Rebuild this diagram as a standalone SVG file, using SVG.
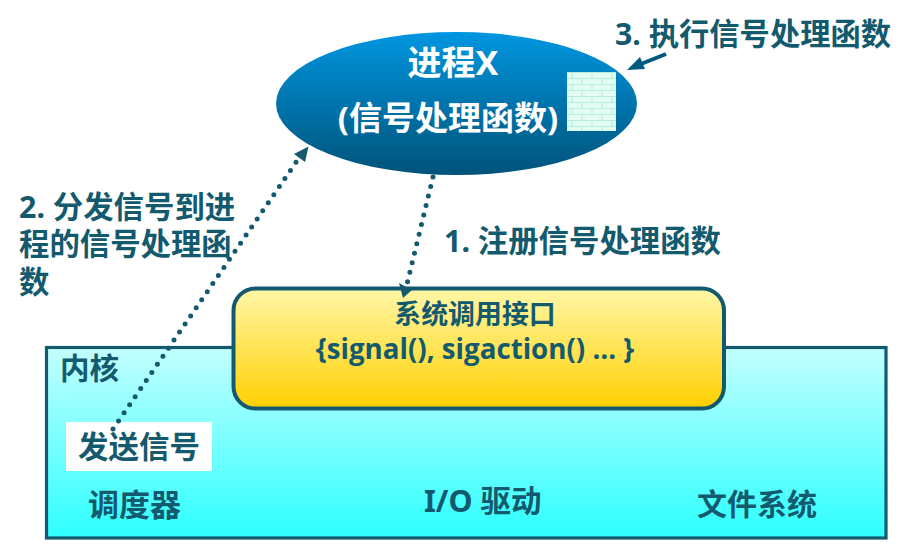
<svg xmlns="http://www.w3.org/2000/svg" width="907" height="554" viewBox="0 0 907 554">
<style>
text{font-family:"Open Sans","Noto Sans CJK SC",sans-serif;font-weight:700;fill:#145a6e}
.cjk{font-family:"Noto Sans","Noto Sans CJK SC",sans-serif}
.dot{fill:none;stroke:#145a6e;stroke-width:5;stroke-linecap:round;stroke-dasharray:0 9.8}
</style>
<defs>
<linearGradient id="gE" x1="0" y1="0" x2="0" y2="1"><stop offset="0" stop-color="#0096e0"/><stop offset="1" stop-color="#00537a"/></linearGradient>
<linearGradient id="gK" x1="0" y1="0" x2="0" y2="1"><stop offset="0" stop-color="#c4ffff"/><stop offset="1" stop-color="#2dffff"/></linearGradient>
<linearGradient id="gY" x1="0" y1="0" x2="0" y2="1"><stop offset="0" stop-color="#fff7a8"/><stop offset="1" stop-color="#ffd000"/></linearGradient>
<pattern id="brick" width="20" height="12" patternUnits="userSpaceOnUse" x="567" y="72">
<rect width="20" height="12" fill="#e4fdf4"/>
<path d="M0 .5H20M0 6.500H20M5 0V6M15 6V12" stroke="#b4f0da" stroke-width="1.100" fill="none"/>
</pattern>
</defs>
<rect width="907" height="554" fill="#fff"/>
<g id="kernel">
<rect x="46.500" y="347.500" width="839.500" height="190.500" fill="url(#gK)" stroke="#145a6e" stroke-width="3.200"/>
<text x="60" y="379" font-size="29.500" class="cjk">内核</text>
</g>
<g id="send-signal">
<rect x="66" y="422" width="146" height="49" fill="#fff"/>
<text x="78" y="458" font-size="30.500" class="cjk">发送信号</text>
</g>
<g id="scheduler"><text x="88" y="516" font-size="31" class="cjk">调度器</text></g>
<g id="io-driver"><text x="424" y="512" font-size="30.500" class="cjk">I/O 驱动</text></g>
<g id="filesystem"><text x="697" y="515" font-size="30" class="cjk">文件系统</text></g>
<g id="process">
<ellipse cx="456.500" cy="103.500" rx="180.500" ry="71.500" fill="url(#gE)"/>
<text x="453" y="75" font-size="34" text-anchor="middle" class="cjk" style="fill:#fff">进程X</text>
<text x="448" y="130" font-size="33" text-anchor="middle" class="cjk" style="fill:#fff">(信号处理函数)</text>
<rect x="567" y="72" width="49" height="59" fill="url(#brick)"/>
</g>
<g id="syscall">
<rect x="233.500" y="288.500" width="490.500" height="120" rx="22" fill="url(#gY)" stroke="#145a6e" stroke-width="4"/>
<text x="475" y="324" font-size="26.900" text-anchor="middle" class="cjk">系统调用接口</text>
<text x="475" y="359" font-size="27.700" text-anchor="middle">{signal(), sigaction() … }</text>
</g>
<g id="connectors">
<path class="dot" d="M113 429L299 158"/>
<path d="M294 154L308.500 146.500L305 162Z" fill="#145a6e"/>
<path class="dot" d="M433 177L407 284"/>
<path d="M399 283L412 290L403 298Z" fill="#145a6e"/>
<path d="M666 54L636 66" fill="none" stroke="#005a80" stroke-width="4"/>
<path d="M627 70L640 57L645 69Z" fill="#005a80"/>
</g>
<g id="label-1"><text x="444" y="252" font-size="30.400" class="cjk">1. 注册信号处理函数</text></g>
<g id="label-2"><text font-size="30.400" class="cjk"><tspan x="19" y="218">2. 分发信号到进</tspan><tspan x="19" y="255">程的信号处理函</tspan><tspan x="19" y="293">数</tspan></text></g>
<g id="label-3"><text x="615" y="45" font-size="30.300" class="cjk">3. 执行信号处理函数</text></g>
</svg>
